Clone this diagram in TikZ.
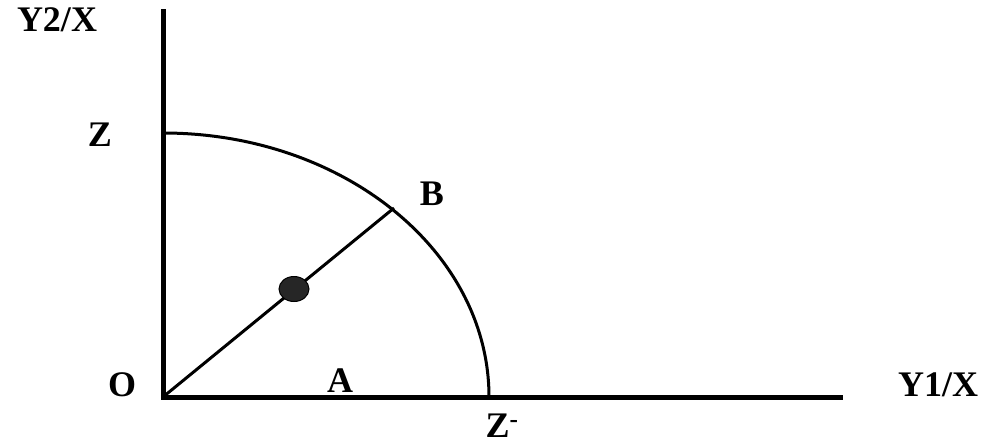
\documentclass[tikz,border=0pt]{standalone}
\usepackage{fontspec}
\setmainfont{Liberation Serif}
\usetikzlibrary{shapes.geometric}
\begin{document}
\begin{tikzpicture}[x=1pt,y=-1pt,
  lbl/.style={font=\fontsize{36}{36}\selectfont\bfseries, inner sep=0pt},
  axis/.style={line width=5pt},
  curve/.style={line width=3pt}]
\useasboundingbox[fill=white] (0,0) rectangle (990,444);
\coordinate (O) at (163,397);
\coordinate (Ytop) at (163,12);
\coordinate (Xend) at (840,397);
\coordinate (Ztop) at (163,133);
\coordinate (Zr) at (489,397);
\coordinate (B) at (394,208);
\draw[curve] (Ztop) arc[start angle=90, end angle=0, x radius=326, y radius=-264];
\draw[curve] (O) -- (B);
\node[fill=black!85, draw=black, line width=1pt, ellipse, minimum width=30pt, minimum height=25pt, inner sep=0pt] (dot) at (294,289) {};
\draw[axis, line cap=rect] (Ytop) -- (O) -- (Xend);
\node[lbl] (y2) at (57,20) {Y2/X};
\node[lbl] (z) at (100,135) {Z};
\node[lbl] (b) at (432,194) {B};
\node[lbl] (o) at (122,385) {O};
\node[lbl] (a) at (340,381) {A};
\node[lbl] (y1) at (938,385) {Y1/X};
\node[lbl, anchor=base] (zm) at (502,437) {Z\textsuperscript{-}};
\end{tikzpicture}
\end{document}
